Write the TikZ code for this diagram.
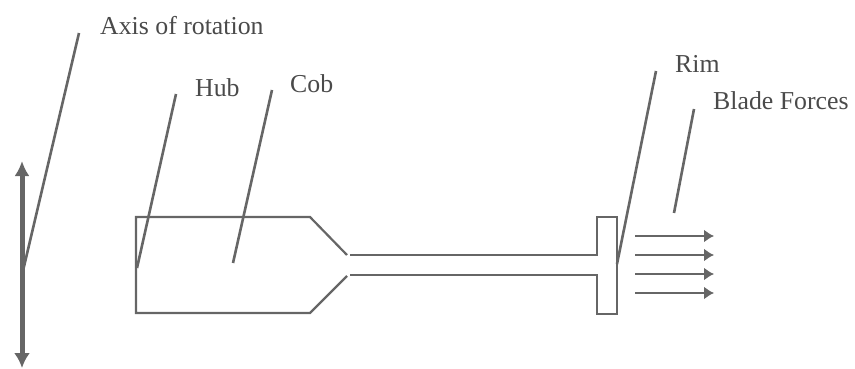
\documentclass[tikz,border=0pt]{standalone}
\usepackage{fontspec}
\setmainfont{Liberation Serif}
\usetikzlibrary{arrows.meta}
\definecolor{inkgray}{HTML}{666666}
\definecolor{textgray}{HTML}{4A4A4A}
\begin{document}
\begin{tikzpicture}[
x=1pt,
y=-1pt,
lbl/.style={%
font=\fontsize{25.8}{26}\selectfont,
text=textgray,
anchor=base west,
inner sep=0pt,
},
leader/.style={%
draw=inkgray,
line width=2.6pt,
},
outline/.style={%
draw=inkgray,
line width=2.2pt,
},
force/.style={%
draw=inkgray,
line width=1.8pt,
arrows=-{Latex[length=10pt,width=13pt]},
},
]
\useasboundingbox(0,0)rectangle(855,369);
%% Labels
\node[lbl]at(100,35)(axis){Axis of rotation};
\node[lbl]at(195,96)(hub){Hub};
\node[lbl]at(290,93)(cob){Cob};
\node[lbl]at(675,73)(rim){Rim};
\node[lbl]at(713,110)(blade){Blade Forces};
%% Leader ends
\coordinate(axis_a)at(79,33);
\coordinate(axis_b)at(22,275);
\coordinate(hub_a)at(176,94);
\coordinate(hub_b)at(137,268);
\coordinate(cob_a)at(272,90);
\coordinate(cob_b)at(233,263);
\coordinate(rim_a)at(656,71);
\coordinate(rim_b)at(617,264);
\coordinate(blade_a)at(694,109);
\coordinate(blade_b)at(674,213);
\foreach \n in{axis,hub,cob,rim,blade}{%
\draw[leader](\n_a)--(\n_b);
}
%% Axis of rotation
\coordinate(top)at(22,161);
\coordinate(bot)at(22,368);
\draw[draw=inkgray,line width=5pt,arrows={Latex[length=15pt,width=15pt]}-{Latex[length=15pt,width=16pt]}](top)--(bot);
%% Disc
\coordinate(a)at(136,217);
\coordinate(b)at(310,217);
\coordinate(c)at(347,255);
\coordinate(d)at(350,255);
\coordinate(e)at(597,255);
\coordinate(f)at(597,217);
\coordinate(g)at(617,217);
\coordinate(h)at(617,314);
\coordinate(i)at(597,314);
\coordinate(j)at(597,275);
\coordinate(k)at(350,275);
\coordinate(l)at(347,276);
\coordinate(m)at(310,313);
\coordinate(n)at(136,313);
\draw[outline](c)--(b)--(a)--(n)--(m)--(l);
\draw[outline](d)--(e)--(f)--(g)--(h)--(i)--(j)--(k);
%% Forces
\foreach \y in{236,255,274,293}{%
\coordinate(f_\y)at(635,\y);
\coordinate(t_\y)at(714,\y);
\draw[force](f_\y)--(t_\y);
}
\end{tikzpicture}
\end{document}
